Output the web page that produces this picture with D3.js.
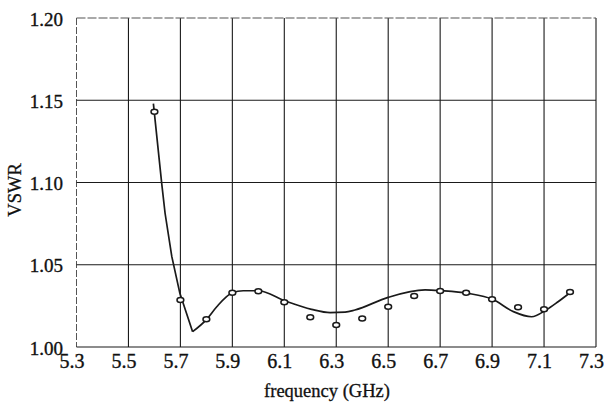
<!DOCTYPE html>
<html>
<head>
<meta charset="utf-8">
<script src="https://cdn.jsdelivr.net/npm/d3@7"></script>
<style>
  html, body { margin: 0; padding: 0; background: #fff; }
  svg { display: block; }
</style>
</head>
<body>
<svg id="chart" width="605" height="402"></svg>
<script>
// ---- data ----
const xTicks = [5.3, 5.5, 5.7, 5.9, 6.1, 6.3, 6.5, 6.7, 6.9, 7.1, 7.3];
const yTicks = [1.00, 1.05, 1.10, 1.15, 1.20];
const xLabel = "frequency (GHz)";
const yLabel = "VSWR";

// measured points (circles)
const measFreq = [5.6, 5.7, 5.8, 5.9, 6.0, 6.1, 6.2, 6.3, 6.4, 6.5, 6.6, 6.7, 6.8, 6.9, 7.0, 7.1, 7.2];
const measVswr = [1.143, 1.0286, 1.0168, 1.0330, 1.0339, 1.0272, 1.0181, 1.0134, 1.0174, 1.0245,
                  1.0310, 1.0340, 1.0330, 1.0290, 1.0241, 1.0229, 1.0334];

// simulated curve: steep drop part (straight segments)
const dropFreq = [5.596, 5.628, 5.641, 5.667, 5.698, 5.747];
const dropVswr = [1.148, 1.0995, 1.0813, 1.0549, 1.0326, 1.0093];

// simulated curve: ripple part (smooth)
const rippleFreq = [5.747, 5.801, 5.840, 5.900, 5.942, 6.000, 6.103, 6.205, 6.276, 6.334, 6.372,
                    6.500, 6.642, 6.706, 6.808, 6.902, 6.982, 7.052, 7.108, 7.154, 7.200];
const rippleVswr = [1.0093, 1.0168, 1.0245, 1.0330, 1.0342, 1.0342, 1.0280, 1.0229, 1.0209, 1.0212, 1.0225,
                    1.0302, 1.0347, 1.0342, 1.0326, 1.0290, 1.0215, 1.0184, 1.0225, 1.0275, 1.0330];

// ---- drawing ----
const FONT = '"Liberation Serif", "Times New Roman", Tinos, Times, "Noto Serif", "DejaVu Serif", serif';
const svg = d3.select("#chart");
const pLeft = 76.5, pRight = 596, pTop = 18, pBottom = 347;

const x = d3.scaleLinear().domain([5.3, 7.3]).range([pLeft, pRight]);
const y = d3.scaleLinear().domain([1.00, 1.20]).range([pBottom, pTop]);

const ink = "#1a1a1a";

// grid lines
const grid = svg.append("g");
grid.selectAll("line.v").data(xTicks).enter().append("line")
  .attr("x1", d => x(d)).attr("x2", d => x(d))
  .attr("y1", pTop).attr("y2", pBottom)
  .attr("stroke", (d, i) => i === 0 ? "#555" : ink)
  .attr("stroke-width", (d, i) => i === 0 ? 1 : 1.1)
  .attr("stroke-dasharray", (d, i) => i === 0 ? "7,2" : null);
grid.selectAll("line.h").data(yTicks).enter().append("line")
  .attr("x1", pLeft).attr("x2", pRight)
  .attr("y1", d => y(d)).attr("y2", d => y(d))
  .attr("stroke", (d, i) => i === yTicks.length - 1 ? "#555" : ink)
  .attr("stroke-width", 1.1)
  .attr("stroke-dasharray", (d, i) => i === yTicks.length - 1 ? "9,2" : null);

// axes (labels only)
const xAxis = d3.axisBottom(x).tickValues(xTicks).tickFormat(d3.format(".1f")).tickSize(0).tickPadding(0);
const gx = svg.append("g").attr("transform", `translate(0,${pBottom})`).call(xAxis)
  .attr("font-family", FONT).attr("font-size", 20);
gx.select(".domain").remove();
gx.selectAll("text")
  .attr("dy", null).attr("y", 21).attr("dx", -5)
  .attr("fill", "#111").attr("stroke", "#111").attr("stroke-width", 0.35);

const yAxis = d3.axisLeft(y).tickValues(yTicks).tickFormat(d3.format(".2f")).tickSize(0).tickPadding(0);
const gy = svg.append("g").attr("transform", `translate(63,0)`).call(yAxis)
  .attr("font-family", FONT).attr("font-size", 19);
gy.select(".domain").remove();
gy.selectAll("text")
  .attr("x", 0).attr("dy", "0.38em")
  .attr("fill", "#111").attr("stroke", "#111").attr("stroke-width", 0.35);

// axis titles
svg.append("text").attr("x", 327).attr("y", 397).attr("text-anchor", "middle")
  .attr("font-family", FONT).attr("font-size", 18.5).attr("fill", "#111")
  .attr("stroke", "#111").attr("stroke-width", 0.3).text(xLabel);
svg.append("text").attr("transform", "translate(21,190) rotate(-90)").attr("text-anchor", "middle")
  .attr("font-family", FONT).attr("font-size", 18.5).attr("fill", "#111")
  .attr("stroke", "#111").attr("stroke-width", 0.3).text(yLabel);

// curve
const drop = dropFreq.map((f, i) => [f, dropVswr[i]]);
const ripple = rippleFreq.map((f, i) => [f, rippleVswr[i]]);
const lineLin = d3.line().x(d => x(d[0])).y(d => y(d[1])).curve(d3.curveLinear);
const lineSmooth = d3.line().x(d => x(d[0])).y(d => y(d[1])).curve(d3.curveMonotoneX);
svg.append("path").attr("d", lineLin(drop)).attr("fill", "none").attr("stroke", ink).attr("stroke-width", 1.7);
svg.append("path").attr("d", lineSmooth(ripple)).attr("fill", "none").attr("stroke", ink).attr("stroke-width", 1.7);

// measured markers
const meas = measFreq.map((f, i) => [f, measVswr[i]]);
svg.append("g").selectAll("ellipse").data(meas).enter().append("ellipse")
  .attr("cx", d => x(d[0])).attr("cy", d => y(d[1]))
  .attr("rx", 3.4).attr("ry", 2.5)
  .attr("fill", "#fff").attr("stroke", ink).attr("stroke-width", 1.5);
</script>
</body>
</html>
